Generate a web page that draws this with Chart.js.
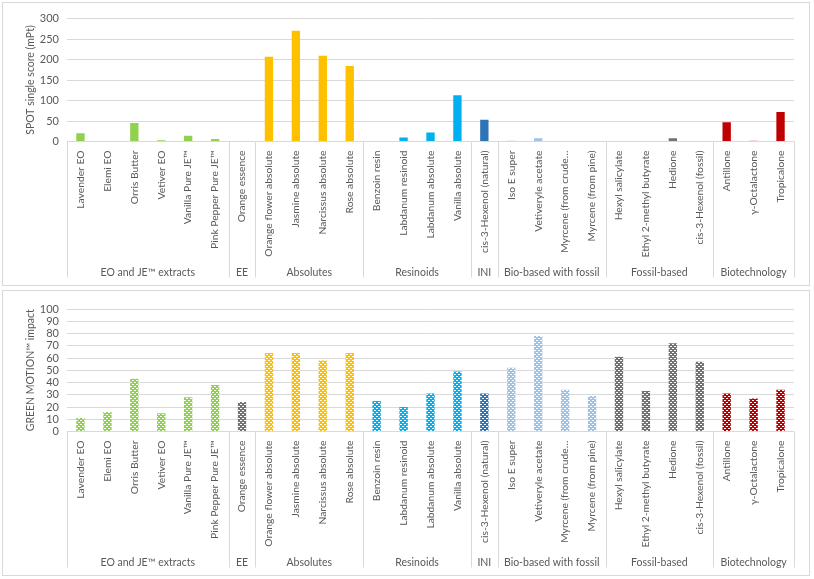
<!DOCTYPE html>
<html>
<head>
<meta charset="utf-8">
<script src="https://cdn.jsdelivr.net/npm/chart.js@4"></script>
<style>
  body { margin: 0; background: #fff; }
  .panel { position: absolute; left: 2px; width: 806px; border: 1px solid #d9d9d9; background: #fff; }
  #topPanel { top: 2px; height: 282px; }
  #bottomPanel { top: 290px; height: 284px; }
  canvas { display: block; }
</style>
</head>
<body>
<div class="panel" id="topPanel"><canvas id="spotChart" width="806" height="282"></canvas></div>
<div class="panel" id="bottomPanel"><canvas id="greenChart" width="806" height="284"></canvas></div>
<script>
const categories = [
    'Lavender EO', 'Elemi EO', 'Orris Butter', 'Vetiver EO', 'Vanilla Pure JE™', 'Pink Pepper Pure JE™',
    'Orange essence',
    'Orange flower absolute', 'Jasmine absolute', 'Narcissus absolute', 'Rose absolute',
    'Benzoin resin', 'Labdanum resinoid', 'Labdanum absolute', 'Vanilla absolute',
    'cis-3-Hexenol (natural)',
    'Iso E super', 'Vetiveryle acetate', 'Myrcene (from crude…', 'Myrcene (from pine)',
    'Hexyl salicylate', 'Ethyl 2-methyl butyrate', 'Hedione', 'cis-3-Hexenol (fossil)',
    'Antillone', 'γ-Octalactone', 'Tropicalone'
];
const groups = ['EO and JE™ extracts', 'EE', 'Absolutes', 'Resinoids', 'INI', 'Bio-based with fossil', 'Fossil-based', 'Biotechnology'];
const groupSizes = [6, 1, 4, 4, 1, 4, 4, 3];

// SPOT single score (mPt)
const spotScores = [20, 0, 45, 3, 14, 6, 0, 207, 270, 209, 184, 0, 10, 22, 113, 53, 2, 8, 0, 0, 0, 0, 8, 0, 47, 2, 72];
// GREEN MOTION impact
const greenMotion = [11, 16, 43, 15, 28, 38, 24, 64, 64, 58, 64, 25, 20, 31, 49, 31, 52, 78, 34, 29, 61, 33, 72, 57, 31, 27, 34];

const spotTicks = { min: 0, max: 300, step: 50 };
const greenTicks = { min: 0, max: 100, step: 10 };

const green = '#92d050', orange = '#ffc000', blue = '#00b0f0', navy = '#2e75b6',
      lightBlue = '#9dc3e6', grey = '#767171', red = '#c00000';
const topColors = [green, green, green, green, green, green, grey, orange, orange, orange, orange,
    blue, blue, blue, blue, navy, lightBlue, lightBlue, lightBlue, lightBlue,
    grey, grey, grey, grey, red, '#e05a5a', red];
const bottomColors = [green, green, green, green, green, green, grey, orange, orange, orange, orange,
    blue, blue, blue, blue, navy, lightBlue, lightBlue, lightBlue, lightBlue,
    grey, grey, grey, grey, red, red, red];

Chart.defaults.font.family = 'Lato';
Chart.defaults.font.size = 11;
Chart.defaults.color = '#595959';

// small checker fill like the Excel pattern
function checker(color) {
    const c = document.createElement('canvas');
    c.width = 4; c.height = 4;
    const g = c.getContext('2d');
    g.fillStyle = color;
    g.fillRect(0, 0, 4, 4);
    g.fillStyle = '#ffffff';
    g.fillRect(1, 1, 1, 1);
    g.fillRect(3, 3, 1, 1);
    g.fillRect(2, 1, 1, 1);
    g.fillRect(0, 3, 1, 1);
    return g.createPattern(c, 'repeat');
}

// draws the second level of the category axis (group lines + names)
const groupAxis = {
    id: 'groupAxis',
    afterDraw(chart) {
        const x = chart.scales.x, area = chart.chartArea, ctx = chart.ctx;
        const step = x.getPixelForValue(1) - x.getPixelForValue(0);
        const edges = [0];
        groupSizes.forEach(n => edges.push(edges[edges.length - 1] + n));
        ctx.save();
        ctx.strokeStyle = '#d9d9d9';
        ctx.lineWidth = 1;
        edges.forEach(i => {
            const px = Math.round(x.getPixelForValue(i) - step / 2) + 0.5;
            ctx.beginPath();
            ctx.moveTo(px, area.bottom);
            ctx.lineTo(px, area.bottom + 136);
            ctx.stroke();
        });
        ctx.fillStyle = '#595959';
        ctx.font = '10.5px Lato';
        ctx.textAlign = 'center';
        ctx.textBaseline = 'middle';
        groups.forEach((g, k) => {
            const a = x.getPixelForValue(edges[k]) - step / 2;
            const b = x.getPixelForValue(edges[k + 1]) - step / 2;
            ctx.fillText(g, (a + b) / 2, area.bottom + 131);
        });
        ctx.restore();
    }
};

function makeChart(id, values, colors, ticks, title, padTop) {
    return new Chart(document.getElementById(id).getContext('2d'), {
        type: 'bar',
        data: {
            labels: categories,
            datasets: [{
                data: values,
                backgroundColor: colors,
                barPercentage: 0.31,
                categoryPercentage: 1
            }]
        },
        options: {
            responsive: false,
            animation: false,
            layout: { padding: { top: padTop, right: 15, bottom: 0, left: 0 } },
            plugins: { legend: { display: false }, tooltip: { enabled: false } },
            scales: {
                x: {
                    grid: { display: false, drawTicks: false },
                    border: { display: false },
                    ticks: { minRotation: 90, maxRotation: 90, autoSkip: false, padding: 9, font: { size: 10.3 } },
                    afterFit: (scale) => { scale.height = 143.5; }
                },
                y: {
                    min: ticks.min,
                    max: ticks.max,
                    grid: { color: '#d9d9d9', drawTicks: false },
                    border: { display: false },
                    ticks: { stepSize: ticks.step, autoSkip: false, padding: 8, font: { size: 11 } },
                    title: { display: true, text: title, padding: { top: 21, bottom: 0 }, font: { size: 10.5 } },
                    afterFit: (scale) => { scale.width = 64; }
                }
            }
        },
        plugins: [groupAxis]
    });
}

document.addEventListener('DOMContentLoaded', function () {
    makeChart('spotChart', spotScores, topColors, spotTicks, 'SPOT single score (mPt)', 15.5);
    makeChart('greenChart', greenMotion, bottomColors.map(checker), greenTicks, 'GREEN MOTION™ impact', 18);
});
</script>
</body>
</html>
